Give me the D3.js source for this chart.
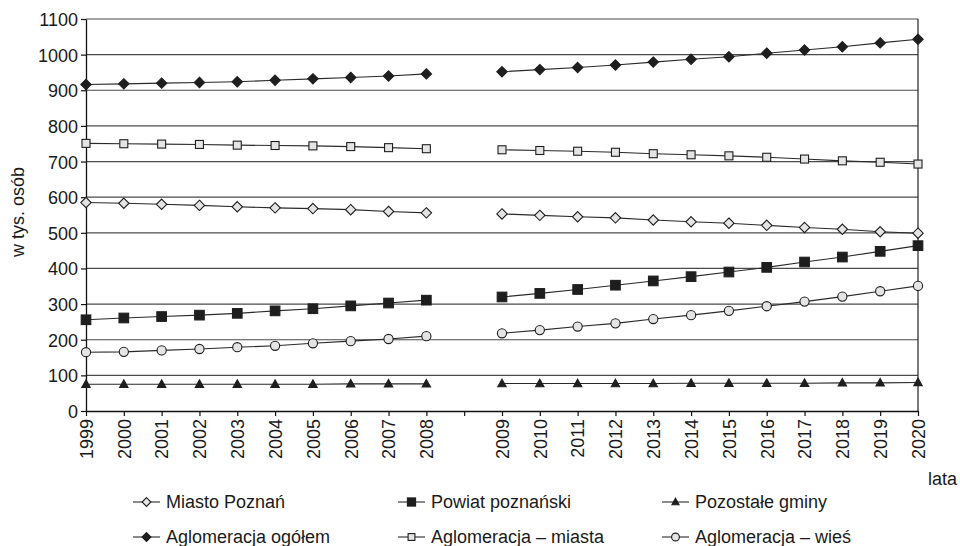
<!DOCTYPE html>
<html>
<head>
<meta charset="utf-8">
<script src="https://cdn.jsdelivr.net/npm/d3@7"></script>
<style>
  body { margin: 0; background: #fff; }
  svg { font-family: "Liberation Sans", Arial, sans-serif; }
</style>
</head>
<body>
<div id="chart"></div>
<script>
// years, with an empty slot between the two periods
const years = ["1999", "2000", "2001", "2002", "2003", "2004", "2005", "2006", "2007", "2008", "gap",
  "2009", "2010", "2011", "2012", "2013", "2014", "2015", "2016", "2017", "2018", "2019", "2020"];
const yTicks = [0, 100, 200, 300, 400, 500, 600, 700, 800, 900, 1000, 1100];

const miastoPoznan = [585, 583, 580, 577, 573, 570, 568, 565, 560, 556, null,
  553, 549, 545, 542, 536, 531, 527, 521, 515, 510, 503, 499];
const powiatPoznanski = [256, 261, 265, 269, 274, 281, 287, 295, 303, 311, null,
  320, 330, 341, 353, 365, 377, 390, 403, 418, 432, 448, 464];
const pozostaleGminy = [75, 75, 75, 75, 75, 75, 75, 76, 76, 76, null,
  77, 77, 77, 77, 77, 78, 78, 78, 78, 79, 79, 80];
const aglomeracjaOgolem = [916, 918, 920, 922, 924, 928, 932, 936, 940, 946, null,
  952, 958, 964, 971, 979, 987, 994, 1004, 1013, 1022, 1033, 1043];
const aglomeracjaMiasta = [751, 750, 749, 748, 746, 745, 744, 742, 739, 736, null,
  733, 731, 729, 726, 722, 719, 716, 712, 707, 702, 698, 693];
const aglomeracjaWies = [165, 166, 170, 174, 179, 183, 190, 196, 202, 210, null,
  218, 227, 237, 246, 258, 269, 281, 294, 307, 321, 336, 351];

const series = [
  { name: "Miasto Poznań", values: miastoPoznan, shape: "diamond", fill: "#e4e4e4" },
  { name: "Powiat poznański", values: powiatPoznanski, shape: "square", fill: "#1e1e1e" },
  { name: "Pozostałe gminy", values: pozostaleGminy, shape: "triangle", fill: "#1e1e1e" },
  { name: "Aglomeracja ogółem", values: aglomeracjaOgolem, shape: "diamond", fill: "#1e1e1e" },
  { name: "Aglomeracja – miasta", values: aglomeracjaMiasta, shape: "square", fill: "#e4e4e4", small: true },
  { name: "Aglomeracja – wieś", values: aglomeracjaWies, shape: "circle", fill: "#e4e4e4" }
];

const W = 960, H = 546;
const plot = { left: 86, right: 918, top: 19, bottom: 411 };

const svg = d3.select("#chart").append("svg")
  .attr("width", W).attr("height", H);

const x = d3.scalePoint().domain(years).range([plot.left, plot.right]);
const y = d3.scaleLinear().domain([0, 1100]).range([plot.bottom, plot.top]);

// grid
svg.append("g").selectAll("line")
  .data(yTicks.filter(d => d > 0))
  .join("line")
  .attr("x1", plot.left).attr("x2", plot.right)
  .attr("y1", d => y(d)).attr("y2", d => y(d))
  .attr("stroke", "#4a4a4a").attr("stroke-width", 1.2);

// right border
svg.append("line")
  .attr("x1", plot.right).attr("x2", plot.right)
  .attr("y1", plot.top).attr("y2", plot.bottom)
  .attr("stroke", "#222").attr("stroke-width", 1.2);

// axes
const yAxis = svg.append("g")
  .attr("transform", `translate(${plot.left},0)`)
  .call(d3.axisLeft(y).tickValues(yTicks).tickFormat(d3.format("d"))
    .tickSize(5).tickPadding(3).tickSizeOuter(0));
const xAxis = svg.append("g")
  .attr("transform", `translate(0,${plot.bottom})`)
  .call(d3.axisBottom(x).tickSize(5).tickSizeOuter(0).tickFormat(d => d === "gap" ? "" : d));

[yAxis, xAxis].forEach(a => {
  a.select(".domain").attr("stroke", "#111").attr("stroke-width", 1.3);
  a.selectAll(".tick line").attr("stroke", "#111").attr("stroke-width", 1.2);
  a.selectAll("text").attr("font-size", "18px").attr("fill", "#1a1a1a")
    .style("font-family", "'Liberation Sans', Arial, sans-serif");
});
yAxis.selectAll("text").attr("dy", "0.36em");
xAxis.selectAll("text")
  .attr("transform", "rotate(-90)")
  .attr("text-anchor", "end")
  .attr("x", -8).attr("y", 0).attr("dy", "0.35em");

// axis titles
svg.append("text")
  .attr("transform", "translate(24,212) rotate(-90)")
  .attr("text-anchor", "middle")
  .attr("font-size", "18px").attr("fill", "#1a1a1a")
  .text("w tys. osób");
svg.append("text")
  .attr("x", 957).attr("y", 485)
  .attr("text-anchor", "end")
  .attr("font-size", "18px").attr("fill", "#1a1a1a")
  .text("lata");

// markers
function drawMarker(sel, s, scale) {
  const k = scale || 1;
  if (s.shape === "diamond") {
    const r = 5.2 * k;
    sel.append("path").attr("d", `M0,${-r}L${r},0L0,${r}L${-r},0Z`);
  } else if (s.shape === "square") {
    const r = (s.small ? 4 : 4.8) * k;
    sel.append("rect").attr("x", -r).attr("y", -r).attr("width", 2 * r).attr("height", 2 * r);
  } else if (s.shape === "triangle") {
    const r = 4.2 * k;
    sel.append("path").attr("d", `M0,${-r * 1.05}L${r},${r * 0.75}L${-r},${r * 0.75}Z`);
  } else {
    sel.append("circle").attr("r", 4.6 * k);
  }
  sel.selectAll("*")
    .attr("fill", s.fill)
    .attr("stroke", "#1e1e1e")
    .attr("stroke-width", 1.1);
}

const line = d3.line()
  .defined(d => d.v !== null)
  .x(d => x(d.year))
  .y(d => y(d.v));

series.forEach(s => {
  const pts = years.map((yr, i) => ({ year: yr, v: s.values[i] }));
  svg.append("path")
    .datum(pts)
    .attr("d", line)
    .attr("fill", "none")
    .attr("stroke", "#2a2a2a")
    .attr("stroke-width", 1.1);
  svg.append("g").selectAll("g")
    .data(pts.filter(d => d.v !== null))
    .join("g")
    .attr("transform", d => `translate(${x(d.year)},${y(d.v)})`)
    .each(function () { drawMarker(d3.select(this), s); });
});

// legend
const legendCols = [133, 398, 662];
const legendRows = [502, 537];
series.forEach((s, i) => {
  const lx = legendCols[i % 3], ly = legendRows[Math.floor(i / 3)];
  const g = svg.append("g").attr("transform", `translate(${lx},${ly})`);
  g.append("line").attr("x1", 0).attr("x2", 27).attr("y1", 0).attr("y2", 0)
    .attr("stroke", "#2a2a2a").attr("stroke-width", 1.1);
  const m = g.append("g").attr("transform", "translate(13.5,0)");
  drawMarker(m, s, 0.85);
  g.append("text")
    .attr("x", 33).attr("y", 6)
    .attr("font-size", "18px").attr("fill", "#1a1a1a")
    .text(s.name);
});
</script>
</body>
</html>
